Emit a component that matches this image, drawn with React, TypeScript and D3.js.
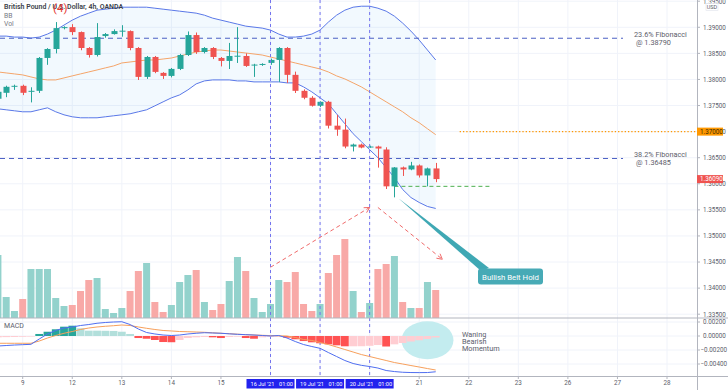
import React from 'react';
import * as d3 from 'd3';

// 4h candles, index 0 = 9 Jul '21 01:00, first candle is index -3
const firstCandle = -3;
const dayLabels = ['9', '12', '13', '14', '15', '16', '19', '20', '21', '22', '23', '26', '27', '28'];
const markedDays = [5, 6, 7];
const markedText = ["16 Jul '21", "19 Jul '21", "20 Jul '21"];
const markedTime = '01:00';

const opens = [1.37630, 1.37744, 1.37859, 1.37878, 1.37763, 1.37782, 1.38412, 1.38584, 1.38984, 1.39003, 1.38908, 1.38603, 1.38469, 1.38832, 1.38870, 1.38927, 1.38927, 1.38603, 1.38049, 1.38431, 1.38126, 1.38068, 1.38202, 1.38469, 1.38851, 1.38526, 1.38603, 1.38412, 1.38355, 1.38450, 1.38450, 1.38278, 1.38278, 1.38317, 1.38374, 1.38603, 1.38088, 1.37782, 1.37649, 1.37496, 1.37572, 1.37114, 1.37038, 1.36714, 1.36752, 1.36695, 1.36714, 1.36657, 1.35951, 1.36313, 1.36275, 1.36351, 1.36160, 1.36294];
const highs = [1.37800, 1.37880, 1.37900, 1.37900, 1.37850, 1.38430, 1.38600, 1.39100, 1.39020, 1.39060, 1.38920, 1.38620, 1.39080, 1.38890, 1.38960, 1.39040, 1.38940, 1.38620, 1.38450, 1.38450, 1.38140, 1.38220, 1.38490, 1.38920, 1.38900, 1.38620, 1.38620, 1.38430, 1.38700, 1.39003, 1.38500, 1.38300, 1.38310, 1.38400, 1.38620, 1.38620, 1.38150, 1.37810, 1.37680, 1.37580, 1.37590, 1.37320, 1.37250, 1.36770, 1.36770, 1.36730, 1.36730, 1.36700, 1.36320, 1.36330, 1.36420, 1.36370, 1.36310, 1.36400];
const lows = [1.37560, 1.37660, 1.37800, 1.37700, 1.37560, 1.37740, 1.38280, 1.38500, 1.38960, 1.38850, 1.38560, 1.38420, 1.38440, 1.38800, 1.38860, 1.38820, 1.38560, 1.37990, 1.38010, 1.38120, 1.38010, 1.38040, 1.38180, 1.38450, 1.38490, 1.38500, 1.38390, 1.38250, 1.38200, 1.38316, 1.38240, 1.38049, 1.38260, 1.38280, 1.37953, 1.37934, 1.37740, 1.37620, 1.37480, 1.37470, 1.37060, 1.36920, 1.36680, 1.36620, 1.36680, 1.36690, 1.36310, 1.35900, 1.35740, 1.36150, 1.36260, 1.36120, 1.35951, 1.36030];
const closes = [1.37763, 1.37859, 1.37878, 1.37744, 1.37782, 1.38412, 1.38584, 1.38984, 1.39003, 1.38908, 1.38603, 1.38469, 1.38813, 1.38870, 1.38927, 1.38935, 1.38603, 1.38049, 1.38431, 1.38145, 1.38068, 1.38202, 1.38469, 1.38851, 1.38526, 1.38603, 1.38431, 1.38355, 1.38450, 1.38455, 1.38259, 1.38285, 1.38297, 1.38374, 1.38603, 1.38088, 1.37782, 1.37649, 1.37496, 1.37572, 1.37114, 1.37038, 1.36714, 1.36752, 1.36695, 1.36714, 1.36676, 1.35951, 1.36313, 1.36275, 1.36351, 1.36160, 1.36294, 1.36090];
const volumes = [6300, 2100, 700, 1900, 4900, 4900, 4900, 2000, 1200, 1300, 2700, 3800, 4000, 900, 500, 1000, 2700, 4700, 5500, 1600, 600, 1300, 3600, 4300, 4800, 1600, 800, 1400, 3700, 6100, 4700, 2000, 600, 1400, 3800, 3600, 4600, 1400, 700, 1400, 4500, 6300, 7900, 2700, 600, 1500, 4900, 5400, 6200, 1600, 1000, 1000, 3600, 2800];

// Bollinger Bands (20, 2)
const bbUpper = [1.38831, 1.38831, 1.38812, 1.38812, 1.38793, 1.38812, 1.38870, 1.38946, 1.39042, 1.39137, 1.39213, 1.39271, 1.39328, 1.39347, 1.39366, 1.39385, 1.39385, 1.39385, 1.39385, 1.39366, 1.39347, 1.39328, 1.39309, 1.39290, 1.39271, 1.39232, 1.39175, 1.39137, 1.39099, 1.39061, 1.39022, 1.39003, 1.38984, 1.38946, 1.38870, 1.38812, 1.38812, 1.38831, 1.38870, 1.38946, 1.39099, 1.39232, 1.39328, 1.39385, 1.39404, 1.39404, 1.39366, 1.39309, 1.39213, 1.39080, 1.38927, 1.38755, 1.38564, 1.38373];
const bbMiddle = [1.38144, 1.38125, 1.38106, 1.38087, 1.38048, 1.38010, 1.37991, 1.37991, 1.38029, 1.38068, 1.38106, 1.38144, 1.38182, 1.38221, 1.38259, 1.38316, 1.38335, 1.38354, 1.38373, 1.38373, 1.38392, 1.38411, 1.38449, 1.38488, 1.38526, 1.38545, 1.38564, 1.38564, 1.38545, 1.38526, 1.38507, 1.38488, 1.38468, 1.38430, 1.38392, 1.38354, 1.38316, 1.38278, 1.38239, 1.38201, 1.38144, 1.38068, 1.38010, 1.37934, 1.37857, 1.37762, 1.37666, 1.37571, 1.37475, 1.37380, 1.37265, 1.37170, 1.37055, 1.36941];
const bbLower = [1.37437, 1.37418, 1.37399, 1.37380, 1.37380, 1.37418, 1.37456, 1.37380, 1.37322, 1.37284, 1.37265, 1.37265, 1.37265, 1.37284, 1.37303, 1.37322, 1.37342, 1.37380, 1.37418, 1.37494, 1.37571, 1.37647, 1.37704, 1.37800, 1.37915, 1.37972, 1.37991, 1.37991, 1.37991, 1.37972, 1.37972, 1.37953, 1.37953, 1.37953, 1.37953, 1.37934, 1.37934, 1.37857, 1.37762, 1.37647, 1.37533, 1.37342, 1.37151, 1.36960, 1.36807, 1.36654, 1.36501, 1.36310, 1.36118, 1.35890, 1.35737, 1.35642, 1.35565, 1.35527];

// MACD (12, 26, 9)
const macdLine = [-0.00143, -0.00136, -0.00129, -0.00124, -0.00119, -0.00043, 0.00029, 0.00079, 0.00114, 0.00129, 0.00150, 0.00164, 0.00182, 0.00193, 0.00200, 0.00204, 0.00164, 0.00100, 0.00050, 0.00029, 0.00014, 0.00007, 0.00014, 0.00029, 0.00039, 0.00047, 0.00043, 0.00039, 0.00031, 0.00024, 0.00019, 0.00014, 0.00007, 0.00000, 0.00007, -0.00029, -0.00079, -0.00122, -0.00150, -0.00176, -0.00236, -0.00293, -0.00350, -0.00393, -0.00419, -0.00436, -0.00458, -0.00493, -0.00508, -0.00518, -0.00522, -0.00523, -0.00522, -0.00511];
const signalLine = [-0.00104, -0.00104, -0.00104, -0.00104, -0.00104, -0.00072, -0.00029, 0.00007, 0.00039, 0.00064, 0.00093, 0.00114, 0.00129, 0.00139, 0.00147, 0.00157, 0.00150, 0.00129, 0.00110, 0.00093, 0.00079, 0.00072, 0.00064, 0.00061, 0.00057, 0.00053, 0.00046, 0.00039, 0.00033, 0.00026, 0.00019, 0.00014, 0.00010, 0.00006, 0.00003, 0.00000, -0.00021, -0.00050, -0.00064, -0.00093, -0.00122, -0.00157, -0.00193, -0.00229, -0.00265, -0.00293, -0.00322, -0.00350, -0.00379, -0.00400, -0.00422, -0.00443, -0.00465, -0.00486];
const histogram = [-0.00019, -0.00016, -0.00014, -0.00011, -0.00007, 0.00029, 0.00061, 0.00096, 0.00133, 0.00147, 0.00110, 0.00076, 0.00076, 0.00074, 0.00072, 0.00061, 0.00029, -0.00029, -0.00039, -0.00057, -0.00086, -0.00089, -0.00057, -0.00029, -0.00019, -0.00014, -0.00019, -0.00029, -0.00014, -0.00010, -0.00029, -0.00039, -0.00019, -0.00010, -0.00004, -0.00024, -0.00047, -0.00072, -0.00090, -0.00104, -0.00119, -0.00133, -0.00147, -0.00147, -0.00146, -0.00140, -0.00129, -0.00150, -0.00119, -0.00100, -0.00079, -0.00061, -0.00043, -0.00021];

const priceTicks = [1.395, 1.39, 1.385, 1.38, 1.375, 1.37, 1.365, 1.36, 1.355, 1.35, 1.345, 1.34, 1.335];
const macdTicks = [0.002, 0, -0.002, -0.004];
const fibLevels = [1.3879, 1.36485];
const fibNames = ['23.6% Fibonacci', '38.2% Fibonacci'];
const resistance = 1.37;
const lastPrice = 1.3609;

const FONT = "Roboto, 'DejaVu Sans', sans-serif";
const UP = '#26a69a';
const DOWN = '#ef5350';

const App: React.FC = () => {
  const axisX = 697;
  const paneBottom = 318;
  const macdBottom = 376;

  const x = d3.scaleLinear().domain([0, 78]).range([22.7, 667]);
  const y = d3.scaleLinear().domain([1.335, 1.395]).range([314.2, 1.2]);
  const yVol = d3.scaleLinear().domain([0, 10000]).range([paneBottom, 218]);
  const yMacd = d3.scaleLinear().domain([-0.004, 0.002]).range([364, 322]);
  const fmt = d3.format('.5f');

  const idx = opens.map((_, k) => firstCandle + k);

  const band = d3.area<number>()
    .x((i) => x(i))
    .y0((_, k) => y(bbLower[k]))
    .y1((_, k) => y(bbUpper[k]));
  const bbLine = (arr: number[]) => d3.line<number>().x((i) => x(i)).y((_, k) => y(arr[k]))(idx) || '';
  const macdPath = (arr: number[]) => d3.line<number>().x((i) => x(i)).y((_, k) => yMacd(arr[k]))(idx) || '';

  const arrow = (x1: number, y1: number, x2: number, y2: number) => {
    const a = Math.atan2(y2 - y1, x2 - x1);
    const l = 6;
    const p1 = [x2 - l * Math.cos(a - 0.5), y2 - l * Math.sin(a - 0.5)];
    const p2 = [x2 - l * Math.cos(a + 0.5), y2 - l * Math.sin(a + 0.5)];
    return (
      <g stroke="#f06b6b" strokeWidth={1} fill="none">
        <line x1={x1} y1={y1} x2={x2} y2={y2} strokeDasharray="4,3" />
        <polyline points={`${p1[0]},${p1[1]} ${x2},${y2} ${p2[0]},${p2[1]}`} />
      </g>
    );
  };

  const belt = 45 - firstCandle;

  return (
    <div>
      <style>{'body{margin:0;background:#fff}'}</style>
      <svg width={728} height={390} style={{ display: 'block', fontFamily: FONT }}>
        <rect width={728} height={390} fill="#fff" />
        {/* grid */}
        {dayLabels.map((_, d) => (
          <line key={'vg' + d} x1={x(d * 6)} x2={x(d * 6)} y1={0} y2={macdBottom} stroke="#f0f3fa" />
        ))}
        {priceTicks.map((p) => (
          <line key={'hg' + p} x1={0} x2={axisX} y1={y(p)} y2={y(p)} stroke="#f0f3fa" />
        ))}
        {macdTicks.map((m) => (
          <line key={'mg' + m} x1={0} x2={axisX} y1={yMacd(m)} y2={yMacd(m)} stroke="#f0f3fa" />
        ))}

        {/* volume */}
        {volumes.map((v, k) => {
          const up = closes[k] >= opens[k];
          return (
            <rect key={'v' + k} x={x(idx[k]) - 3.5} y={yVol(v)} width={7} height={paneBottom - yVol(v)}
              fill={up ? '#93d2cc' : '#f8a9a7'} />
          );
        })}

        {/* Bollinger bands */}
        <path d={band(idx) || ''} fill="rgba(33,150,243,0.06)" />
        <path d={bbLine(bbUpper)} fill="none" stroke="#5a78e8" strokeWidth={1} />
        <path d={bbLine(bbLower)} fill="none" stroke="#5a78e8" strokeWidth={1} />
        <path d={bbLine(bbMiddle)} fill="none" stroke="#f5a56a" strokeWidth={1} />

        {/* fibonacci levels */}
        {fibLevels.map((f, n) => (
          <g key={'fib' + n}>
            <line x1={0} x2={623} y1={y(f)} y2={y(f)} stroke="#4b5fc4" strokeDasharray="5,4" />
            <text x={634} y={y(f) - 1.5} fontSize={7.3} fill="#5d606b">{fibNames[n]}</text>
            <text x={636} y={y(f) + 6.5} fontSize={7.3} fill="#5d606b">{'@ ' + fmt(f)}</text>
          </g>
        ))}
        <line x1={x(52.9)} x2={axisX} y1={y(resistance)} y2={y(resistance)} stroke="#ff9800" strokeWidth={1.3} strokeDasharray="1.3,2" />
        <line x1={x(45)} x2={x(56.5)} y1={y(closes[belt - 1])} y2={y(closes[belt - 1])} stroke="#4caf50" strokeDasharray="4,3" />

        {/* candles */}
        {opens.map((o, k) => {
          const c = closes[k];
          const col = c >= o ? UP : DOWN;
          const cx = Math.round(x(idx[k])) + 0.5;
          const top = y(Math.max(o, c));
          const bot = y(Math.min(o, c));
          return (
            <g key={'c' + k}>
              <line x1={cx} x2={cx} y1={y(highs[k])} y2={y(lows[k])} stroke={col} />
              <rect x={cx - 3} y={top} width={6} height={Math.max(1, bot - top)} fill={col} />
            </g>
          );
        })}

        {/* marked sessions */}
        {markedDays.map((d) => (
          <line key={'md' + d} x1={x(d * 6)} x2={x(d * 6)} y1={0} y2={macdBottom} stroke="#7474ee" strokeDasharray="3,3" />
        ))}

        {/* arrows */}
        {arrow(x(30), y(1.344), x(42), y(1.35546))}
        {arrow(x(43), y(1.35546), x(50.8), y(1.34553))}

        {/* callout */}
        <polygon points={`${x(45) + 4},${y(lows[belt]) + 1} ${481},${271} ${489},${268}`} fill="#3fa8b4" />
        <rect x={478} y={268.5} width={65} height={16} rx={3} fill="#47aab6" />
        <text x={510.5} y={279.5} fontSize={7.8} fill="#fff" textAnchor="middle">Bullish Belt Hold</text>

        {/* MACD pane */}
        <line x1={0} x2={728} y1={paneBottom} y2={paneBottom} stroke="#b2b5be" />
        <ellipse cx={x(49)} cy={yMacd(-0.0006)} rx={26} ry={19} fill="#c3ecef" />
        {histogram.map((h, k) => {
          const prev = k > 0 ? histogram[k - 1] : h;
          let col: string;
          if (h >= 0) col = h > prev ? '#26a69a' : '#b2dfdb';
          else col = h < prev ? '#ff5252' : '#ffcdd2';
          return (
            <rect key={'h' + k} x={x(idx[k]) - 3.9} width={7.8}
              y={Math.min(yMacd(h), yMacd(0))} height={Math.max(0.6, Math.abs(yMacd(h) - yMacd(0)))} fill={col} />
          );
        })}
        <path d={macdPath(signalLine)} fill="none" stroke="#f7a05c" strokeWidth={1} />
        <path d={macdPath(macdLine)} fill="none" stroke="#4f6ef0" strokeWidth={1} />
        <text fontSize={7.3} fill="#5d606b">
          <tspan x={462} y={336.5}>Waning</tspan>
          <tspan x={462} y={343.5}>Bearish</tspan>
          <tspan x={462} y={350.5}>Momentum</tspan>
        </text>
        <text x={4} y={328} fontSize={7} fill="#5d606b">MACD</text>

        {/* legend */}
        <text x={4} y={9} fontSize={7} fontWeight={600} fill="#3c3f4a">British Pound / U.S. Dollar, 4h, OANDA</text>
        <text x={53} y={12} fontSize={11.5} fill="#e53935">(4)</text>
        <text x={4} y={17.5} fontSize={6.8} fill="#787b86">BB</text>
        <text x={4} y={26} fontSize={6.8} fill="#787b86">Vol</text>

        {/* right axis */}
        <rect x={axisX} y={0} width={31} height={macdBottom} fill="#fff" />
        <line x1={axisX + 0.5} x2={axisX + 0.5} y1={0} y2={390} stroke="#b2b5be" />
        <line x1={axisX} x2={728} y1={paneBottom} y2={paneBottom} stroke="#b2b5be" />
        {priceTicks.map((p) => (
          <g key={'pt' + p}>
            <line x1={axisX} x2={axisX + 3} y1={y(p)} y2={y(p)} stroke="#b2b5be" />
            <text x={703} y={y(p) + 2.3} fontSize={6.3} fill="#5d606b">{fmt(p)}</text>
          </g>
        ))}
        {macdTicks.map((m) => (
          <g key={'mt' + m}>
            <line x1={axisX} x2={axisX + 3} y1={yMacd(m)} y2={yMacd(m)} stroke="#b2b5be" />
            <text x={m < 0 ? 700.5 : 703} y={yMacd(m) + 2.3} fontSize={6.3} fill="#5d606b">{fmt(m)}</text>
          </g>
        ))}
        <rect x={706} y={3.5} width={12} height={7} fill="#fff" stroke="#e0e3eb" strokeWidth={0.6} />
        <text x={712} y={9} fontSize={5.5} fill="#5d606b" textAnchor="middle">USD</text>
        <rect x={axisX} y={y(resistance) - 4} width={26} height={8} fill="#ff9800" />
        <text x={700} y={y(resistance) + 2.3} fontSize={6.3} fill="#3d2a00">{fmt(resistance)}</text>
        <rect x={axisX} y={y(lastPrice) - 4} width={26} height={8} fill="#ef5350" />
        <text x={700} y={y(lastPrice) + 2.3} fontSize={6.3} fill="#fff">{fmt(lastPrice)}</text>

        {/* time axis */}
        <line x1={0} x2={728} y1={macdBottom + 0.5} y2={macdBottom + 0.5} stroke="#b2b5be" />
        {dayLabels.map((lab, d) => markedDays.includes(d) ? null : (
          <g key={'dl' + d}>
            <line x1={x(d * 6)} x2={x(d * 6)} y1={macdBottom} y2={macdBottom + 3} stroke="#b2b5be" />
            <text x={x(d * 6)} y={385} fontSize={6.3} fill="#5d606b" textAnchor="middle">{lab}</text>
          </g>
        ))}
        {markedDays.map((d, n) => (
          <g key={'mb' + d}>
            <rect x={x(d * 6) - 24} y={379} width={48} height={9.5} fill="#2222ee" />
            <text x={x(d * 6) - 20} y={385.8} fontSize={5.6} fill="#fff">{markedText[n]}</text>
            <text x={x(d * 6) + 8.5} y={385.8} fontSize={5.6} fill="#fff">{markedTime}</text>
          </g>
        ))}
      </svg>
    </div>
  );
};

export default App;
